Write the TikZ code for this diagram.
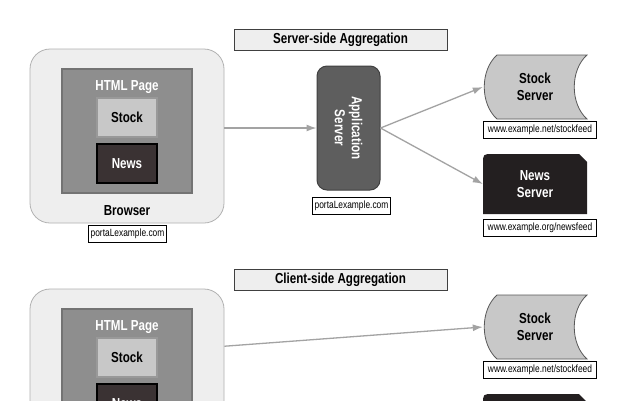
\documentclass[tikz,border=0pt]{standalone}
\usepackage{fontspec}
\setmainfont{Liberation Sans}[FakeStretch=0.8]
\usetikzlibrary{arrows.meta}

\definecolor{boxgray}{HTML}{EEEEEE}
\definecolor{pagegray}{HTML}{8E8E8E}
\definecolor{btngray}{HTML}{C8C8C8}
\definecolor{btndark}{HTML}{3A3233}
\definecolor{appgray}{HTML}{5E5E5E}
\definecolor{newsblack}{HTML}{231F20}
\definecolor{arrowgray}{HTML}{A3A3A3}

\tikzset{
  heading/.style={draw=black!75, fill=boxgray, line width=0.8pt, minimum width=213pt, minimum height=21pt, font=\bfseries\fontsize{14.5}{16}\selectfont},
  browserbox/.style={draw=black!30, fill=boxgray, line width=0.8pt, rounded corners=20pt, minimum width=194pt, minimum height=174pt},
  pagebox/.style={draw=black!55, fill=pagegray, line width=2pt, minimum width=130pt, minimum height=124pt},
  button/.style={line width=1.2pt, minimum width=60pt, minimum height=39pt, font=\bfseries\fontsize{14.5}{16}\selectfont},
  urlbox/.style={draw=black, fill=white, line width=0.6pt, inner sep=2pt, minimum height=17pt, font=\fontsize{10.5}{11}\selectfont},
  bigtext/.style={font=\bfseries\fontsize{14.5}{17}\selectfont, align=center},
  feed/.style={draw=arrowgray, line width=1.3pt, -{Latex[length=10pt,width=7pt]}}
}

\begin{document}
\begin{tikzpicture}[x=1pt,y=-1pt]
\fill[white] (0,0) rectangle (617,400);
\useasboundingbox (0,0) rectangle (617,400);
\clip (0,0) rectangle (617,400);

% server-side aggregation
\node[heading] (title1) at (340.5,39.5) {Server-side Aggregation};
\node[browserbox] (browser1) at (127,136) {};
\node[pagebox] (page1) at (127,131) {};
\node[bigtext, text=white] (pagename1) at (127,87) {HTML Page};
\node[button, draw=black!40, fill=btngray] (stock1) at (127,117.5) {Stock};
\node[button, draw=black, fill=btndark, text=white] (news1) at (127,163.5) {News};
\node[bigtext] (browsername1) at (127,211) {Browser};
\node[urlbox] (portal1) at (127.5,233.5) {portaLexample.com};

\node[draw=black!75, fill=appgray, rounded corners=10pt, line width=1pt, minimum width=63pt, minimum height=124pt] (app) at (348.5,128) {};
\node[bigtext, text=white, rotate=-90] (appname) at (app) {Application\\Server};
\node[urlbox] (portal2) at (351.5,206) {portaLexample.com};

\draw[draw=black!65, fill=btngray, line width=0.8pt] (497,55) -- (587,55) .. controls (570,70) and (570,104) .. (587,119) -- (497,119) .. controls (480,104) and (480,70) .. cycle;
\node[bigtext, minimum width=104pt, minimum height=64pt] (stocksrv1) at (535,87) {Stock\\Server};
\node[urlbox, minimum width=113pt] (stockurl1) at (540,130) {www.example.net/stockfeed};

\fill[newsblack] (483,214) -- (483,164) .. controls (483,154) .. (493,154) -- (579,154) -- (587,162) -- (587,214) -- cycle;
\node[bigtext, text=white, minimum width=104pt, minimum height=60pt] (newssrv1) at (535,184) {News\\Server};
\node[urlbox, minimum width=113pt] (newsurl1) at (540,227.5) {www.example.org/newsfeed};

\draw[feed] (browser1.east |- app.west) -- (app.west);
\draw[feed] (app.east) -- (stocksrv1.west);
\draw[feed] (app.east) -- (newssrv1.west);

% client-side aggregation
\node[heading] (title2) at (340.5,279.5) {Client-side Aggregation};
\node[browserbox] (browser2) at (127,376) {};
\node[pagebox] (page2) at (127,371) {};
\node[bigtext, text=white] (pagename2) at (127,327) {HTML Page};
\node[button, draw=black!40, fill=btngray] (stock2) at (127,357.5) {Stock};
\node[button, draw=black, fill=btndark, text=white] (news2) at (127,403.5) {News};

\draw[draw=black!65, fill=btngray, line width=0.8pt] (497,295) -- (587,295) .. controls (570,310) and (570,344) .. (587,359) -- (497,359) .. controls (480,344) and (480,310) .. cycle;
\node[bigtext, minimum width=104pt, minimum height=64pt] (stocksrv2) at (535,327) {Stock\\Server};
\node[urlbox, minimum width=113pt] (stockurl2) at (540,370) {www.example.net/stockfeed};

\fill[newsblack] (483,454) -- (483,404) .. controls (483,394) .. (493,394) -- (579,394) -- (587,402) -- (587,454) -- cycle;

\draw[feed] (browser2.17) -- (stocksrv2.west);
\end{tikzpicture}
\end{document}
